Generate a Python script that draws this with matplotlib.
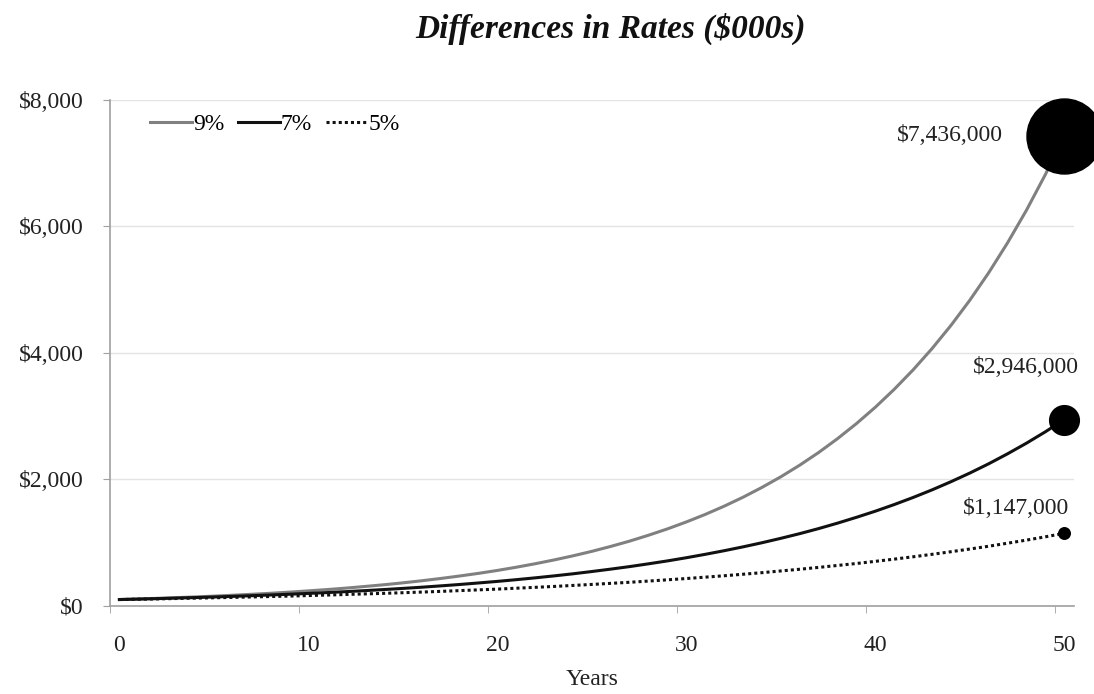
import matplotlib
matplotlib.use("Agg")
import matplotlib.pyplot as plt
import matplotlib.ticker as mticker

plt.rc("font", family="Liberation Serif")

years = list(range(51))

# value of $100k by year, in $000s
rate_9 = [100, 109, 119, 130, 141, 154, 168, 183, 199, 217,
          237, 258, 281, 307, 334, 364, 397, 433, 472, 514,
          560, 611, 666, 726, 791, 862, 940, 1024, 1117, 1217,
          1327, 1446, 1576, 1718, 1873, 2041, 2225, 2425, 2644, 2882,
          3141, 3424, 3732, 4068, 4434, 4833, 5268, 5742, 6258, 6822,
          7436]
rate_7 = [100, 107, 114, 123, 131, 140, 150, 161, 172, 184,
          197, 210, 225, 241, 258, 276, 295, 316, 338, 362,
          387, 414, 443, 474, 507, 543, 581, 621, 665, 711,
          761, 815, 872, 933, 998, 1068, 1142, 1222, 1308, 1400,
          1497, 1602, 1714, 1834, 1963, 2100, 2247, 2405, 2573, 2753,
          2946]
rate_5 = [100, 105, 110, 116, 122, 128, 134, 141, 148, 155,
          163, 171, 180, 189, 198, 208, 218, 229, 241, 253,
          265, 279, 293, 307, 323, 339, 356, 373, 392, 412,
          432, 454, 476, 500, 525, 552, 579, 608, 639, 670,
          704, 739, 776, 815, 856, 899, 943, 991, 1040, 1092,
          1147]

labels = ["9%", "7%", "5%"]
series = [rate_9, rate_7, rate_5]
colors = ["#808080", "#111111", "#111111"]
styles = ["-", "-", (0, (1, 1))]
# (x offset, y offset) of the end-value text
label_pos = [(-3.25, 0), (0.75, 820), (0.25, 400)]

FS = 17

fig = plt.figure(figsize=(10.94, 6.94), dpi=100)
ax = fig.add_axes([0.1005, 0.127, 0.881, 0.729])

for name, vals, c, ls in zip(labels, series, colors, styles):
    ax.plot(years, vals, color=c, linestyle=ls, lw=2.2, label=name, zorder=3)

# end-point bubbles sized by final value
k = 54.0 / rate_9[-1]
for vals, (dx, dy) in zip(series, label_pos):
    v = vals[-1]
    ax.plot(years[-1], v, "o", color="black", markersize=v * k, zorder=4, clip_on=False)
    ax.text(years[-1] + dx, v + dy, "${:,.0f}".format(v * 1000), ha="right", va="center",
            fontsize=FS, color="#222222")

ax.set_xlim(-0.5, 50.5)
ax.set_ylim(0, 8000)
ax.set_xticks(range(0, 51, 10))
ax.set_xticks([x - 0.5 for x in range(0, 51, 10)], minor=True)
ax.tick_params(axis="x", which="major", length=0, pad=21, labelsize=FS, colors="#222222")
ax.tick_params(axis="x", which="minor", length=5, color="#a0a0a0")
ax.set_yticks(range(0, 8001, 2000))
ax.yaxis.set_major_formatter(mticker.FuncFormatter(lambda y, p: "${:,.0f}".format(y)))
ax.tick_params(axis="y", length=5, color="#a0a0a0", labelsize=FS, labelcolor="#222222", pad=14)

ax.grid(axis="y", color="#e4e4e4", lw=1)
ax.set_axisbelow(True)
for s in ["top", "right"]:
    ax.spines[s].set_visible(False)
for s in ["left", "bottom"]:
    ax.spines[s].set_color("#a0a0a0")
    ax.spines[s].set_linewidth(1.2)

ax.set_xlabel("Years", fontsize=FS, color="#222222", labelpad=9)
ax.legend(loc="upper left", ncol=3, frameon=False, fontsize=FS, handlelength=1.75,
          handletextpad=0.05, columnspacing=0.6, bbox_to_anchor=(0.02, 1.015))

fig.text(0.5585, 0.958, "Differences in Rates ($000s)", ha="center", va="center",
         fontsize=24, fontweight="bold", fontstyle="italic", color="#111111")

fig.savefig("out.png", dpi=100)
